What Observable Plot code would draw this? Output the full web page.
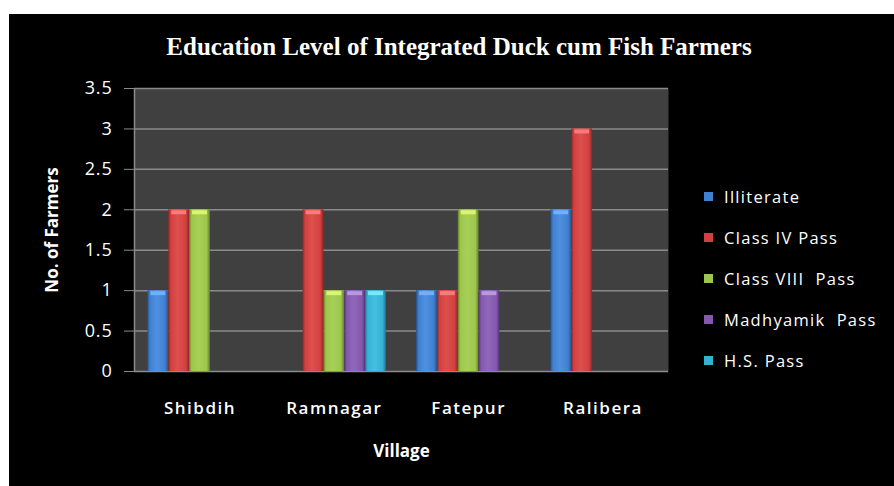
<!DOCTYPE html>
<html><head><meta charset="utf-8">
<script src="https://cdn.jsdelivr.net/npm/d3@7"></script>
<script src="https://cdn.jsdelivr.net/npm/@observablehq/plot@0.6"></script>
<style>
html,body{margin:0;padding:0;background:#fff;}
body{width:894px;height:486px;overflow:hidden;position:relative;}
#box{position:absolute;left:9px;top:14px;width:885px;height:472px;background:#000;overflow:hidden;}
#title{position:absolute;left:0;top:19px;width:900px;text-align:center;color:#fff;font:bold 25px "Liberation Serif","DejaVu Serif",serif;white-space:pre;}
#bg,#chart{position:absolute;left:0;top:0;}
#legend{position:absolute;left:695px;top:162px;width:200px;}
#legend *{white-space:pre !important;}
#legend .lg-swatch{height:41px;padding:0 !important;margin:0;display:flex;align-items:center;font:16.5px "Open Sans",sans-serif;letter-spacing:1.3px;color:#fff;}
#legend .lg-swatch svg{margin-right:11px;}
g[aria-label="y-axis label"] text, g[aria-label="fx-axis label"] text{font-weight:bold;font-size:17px;}
g[aria-label="fx-axis tick label"] text{font-size:17px;font-weight:600;letter-spacing:1.5px;}
g[aria-label="y-axis tick label"] text{font-size:18px;letter-spacing:0.8px;}
</style>
</head><body>
<div id="box">
  <div id="title">Education Level of Integrated Duck cum Fish Farmers</div>
  <div id="bg"></div>
  <div id="chart"></div>
  <div id="legend"></div>
</div>
<script>
const villages = ["Shibdih", "Ramnagar", "Fatepur", "Ralibera"];
const levels = ["Illiterate", "Class IV Pass", "Class VIII  Pass", "Madhyamik  Pass", "H.S. Pass"];
const illiterate = [1, 0, 1, 2];
const classIV = [2, 2, 1, 3];
const classVIII = [2, 1, 2, 0];
const madhyamik = [0, 1, 1, 0];
const hsPass = [0, 1, 0, 0];
const yTicks = [0, 0.5, 1, 1.5, 2, 2.5, 3, 3.5];

const baseColors = ["#3f80d0", "#d2403f", "#9cc64c", "#8459ad", "#35b1d4"];
const edgeColors = ["#27548f", "#8e2626", "#627f2c", "#523676", "#1c7593"];
const lightColors = ["#4f90e0", "#dc504e", "#a8d058", "#9068ba", "#45c0e0"];
const capColors = ["#6fb0ff", "#ff7a78", "#dcf570", "#b797e6", "#7ae6ff"];

const series = [illiterate, classIV, classVIII, madhyamik, hsPass];
const rows = [];
villages.forEach((v, i) => levels.forEach((l, j) => rows.push({village: v, level: l, value: series[j][i]})));

const dims = {
  width: 885, height: 472,
  marginLeft: 125, marginRight: 226, marginTop: 74, marginBottom: 115
};
const baseStyle = {background: "transparent", color: "#fff", fontFamily: "'Open Sans', sans-serif", fontSize: "16px"};

// background layer: plot area, grid, y axis
const bg = Plot.plot({
  ...dims,
  style: baseStyle,
  x: {domain: [0, 1], axis: null},
  y: {domain: [0, 3.5], ticks: yTicks},
  marks: [
    Plot.frame({fill: "#404040"}),
    Plot.ruleY(yTicks, {stroke: "#8a8a8a", strokeWidth: 1.5}),
    Plot.ruleX([0], {y1: 0, y2: 3.5, stroke: "#8a8a8a", strokeWidth: 1.5}),
    Plot.axisY({ticks: yTicks, tickFormat: d => String(d), tickSize: 10, tickPadding: 12, stroke: "#8a8a8a", fill: "#fff",
      label: "No. of Farmers", labelAnchor: "center", labelArrow: "none", labelOffset: 89})
  ]
});
document.getElementById("bg").append(bg);

// foreground layer: grouped bars
const chart = Plot.plot({
  ...dims,
  style: baseStyle,
  fx: {domain: villages, paddingInner: 0.225, paddingOuter: 0.1, round: false, label: "Village"},
  x: {domain: levels, padding: 0, round: false, axis: null},
  y: {domain: [0, 3.5], axis: null},
  color: {domain: levels, range: levels.map((d, i) => `url(#grad${i})`)},
  marks: [
    Plot.barY(rows, {fx: "village", x: "level", y: "value", fill: "level"}),
    ...levels.map((lv, i) => Plot.tickY(rows.filter(d => d.level === lv && d.value > 0),
      {fx: "village", x: "level", y: "value", stroke: capColors[i], strokeWidth: 4, dy: 2.5, insetLeft: 3, insetRight: 3})),
    Plot.axisFx({anchor: "bottom", tickSize: 0, tickPadding: 30, fill: "#fff", label: "Village", labelAnchor: "center", labelOffset: 85})
  ]
});
const defs = d3.select(chart).insert("defs", ":first-child");
levels.forEach((l, i) => {
  const g = defs.append("linearGradient").attr("id", `grad${i}`).attr("x1", 0).attr("x2", 1).attr("y1", 0).attr("y2", 0);
  g.append("stop").attr("offset", "0%").attr("stop-color", edgeColors[i]);
  g.append("stop").attr("offset", "12%").attr("stop-color", baseColors[i]);
  g.append("stop").attr("offset", "45%").attr("stop-color", lightColors[i]);
  g.append("stop").attr("offset", "85%").attr("stop-color", baseColors[i]);
  g.append("stop").attr("offset", "100%").attr("stop-color", edgeColors[i]);
});
document.getElementById("chart").append(chart);

const legend = Plot.legend({
  color: {type: "ordinal", domain: levels, range: baseColors},
  columns: 1, swatchSize: 9, width: 200, className: "lg"
});
document.getElementById("legend").append(legend);
</script>
</body></html>
